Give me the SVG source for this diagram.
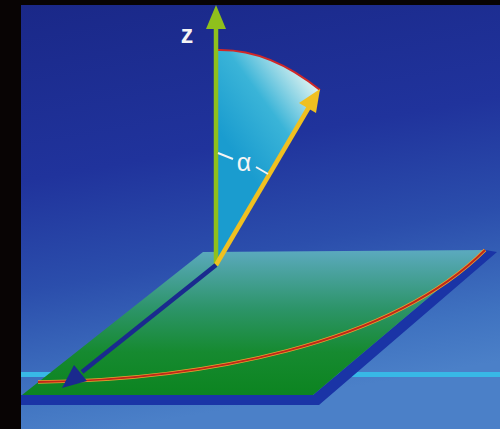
<svg xmlns="http://www.w3.org/2000/svg" width="500" height="429" viewBox="0 0 500 429">
  <defs>
    <linearGradient id="bg" x1="0" y1="0" x2="0.2" y2="1">
      <stop offset="0" stop-color="#1a2888"/>
      <stop offset="0.4" stop-color="#20339c"/>
      <stop offset="0.65" stop-color="#2b4eac"/>
      <stop offset="0.88" stop-color="#3f72c0"/>
      <stop offset="1" stop-color="#4b80c8"/>
    </linearGradient>
    <linearGradient id="planeFill" gradientUnits="userSpaceOnUse" x1="0" y1="252" x2="0" y2="395">
      <stop offset="0" stop-color="#5aa9bc"/>
      <stop offset="0.4" stop-color="#2c9468"/>
      <stop offset="0.7" stop-color="#168a30"/>
      <stop offset="1" stop-color="#0c8420"/>
    </linearGradient>
    <linearGradient id="sectorFill" gradientUnits="userSpaceOnUse" x1="232" y1="150" x2="320" y2="86">
      <stop offset="0" stop-color="#1a9ccf"/>
      <stop offset="0.5" stop-color="#3ab4d8"/>
      <stop offset="1" stop-color="#e6f6f2"/>
    </linearGradient>
    <style>
      .axis { stroke: #8fc01c; stroke-width: 4.5; fill: none; }
      .axisHead { fill: #8fc01c; }
      .tilt { stroke: #f0c020; stroke-width: 4.5; fill: none; }
      .tiltHead { fill: #f0c020; }
      .ground { stroke: #1a2a8e; stroke-width: 4.5; fill: none; }
      .groundHead { fill: #1a2a8e; }
      .label { font-family: "Liberation Sans", Arial, sans-serif; fill: #f4f4f4; }
      .tick { stroke: #f4f4f4; stroke-width: 2; }
    </style>
  </defs>

  <!-- frame and background -->
  <rect x="0" y="0" width="500" height="429" fill="#080404"/>
  <rect x="21" y="5" width="479" height="424" fill="url(#bg)"/>

  <!-- horizon line behind the plane -->
  <rect x="21" y="372" width="479" height="5" fill="#38b8e6"/>

  <!-- tilted plane -->
  <g id="plane">
    <polygon points="21,395 313,395 485,250 497,252 319,405 21,405" fill="#1a34a6"/>
    <polygon points="22,395 203,252 485,250 313,395" fill="url(#planeFill)"/>
    <path d="M38,382 C200,380 390,345 485,250" fill="none" stroke="#e8a030" stroke-width="3.6"/>
    <path d="M38,382 C200,380 390,345 485,250" fill="none" stroke="#c02818" stroke-width="1.8"/>
  </g>

  <!-- angle sector -->
  <g id="sector">
    <path d="M216,265 L216,50 Q268,48 320,90 Z" fill="url(#sectorFill)"/>
    <path d="M216,50 Q268,48 320,90" fill="none" stroke="#d02828" stroke-width="2"/>
  </g>

  <g id="connectors">
    <!-- z axis -->
    <g id="z-axis">
      <line class="axis" x1="216" y1="266" x2="216" y2="26"/>
      <polygon class="axisHead" points="216,5 226,29 206,29"/>
    </g>
    <!-- tilted vector -->
    <g id="tilt-vector">
      <line class="tilt" x1="216" y1="265" x2="309" y2="107"/>
      <polygon class="tiltHead" points="320,89 316,113 299,103"/>
    </g>
    <!-- in-plane vector -->
    <g id="ground-vector">
      <line class="ground" x1="216" y1="265" x2="82" y2="372"/>
      <polygon class="groundHead" points="62,388 74,365 87,381"/>
    </g>
  </g>

  <!-- labels -->
  <g id="label-z">
    <text class="label" x="187" y="43" font-size="25" font-weight="bold" text-anchor="middle">z</text>
  </g>
  <g id="label-alpha">
    <line class="tick" x1="218" y1="153" x2="233" y2="159"/>
    <line class="tick" x1="256" y1="167" x2="268" y2="174"/>
    <text class="label" x="244" y="171" font-size="25" text-anchor="middle">α</text>
  </g>
</svg>
